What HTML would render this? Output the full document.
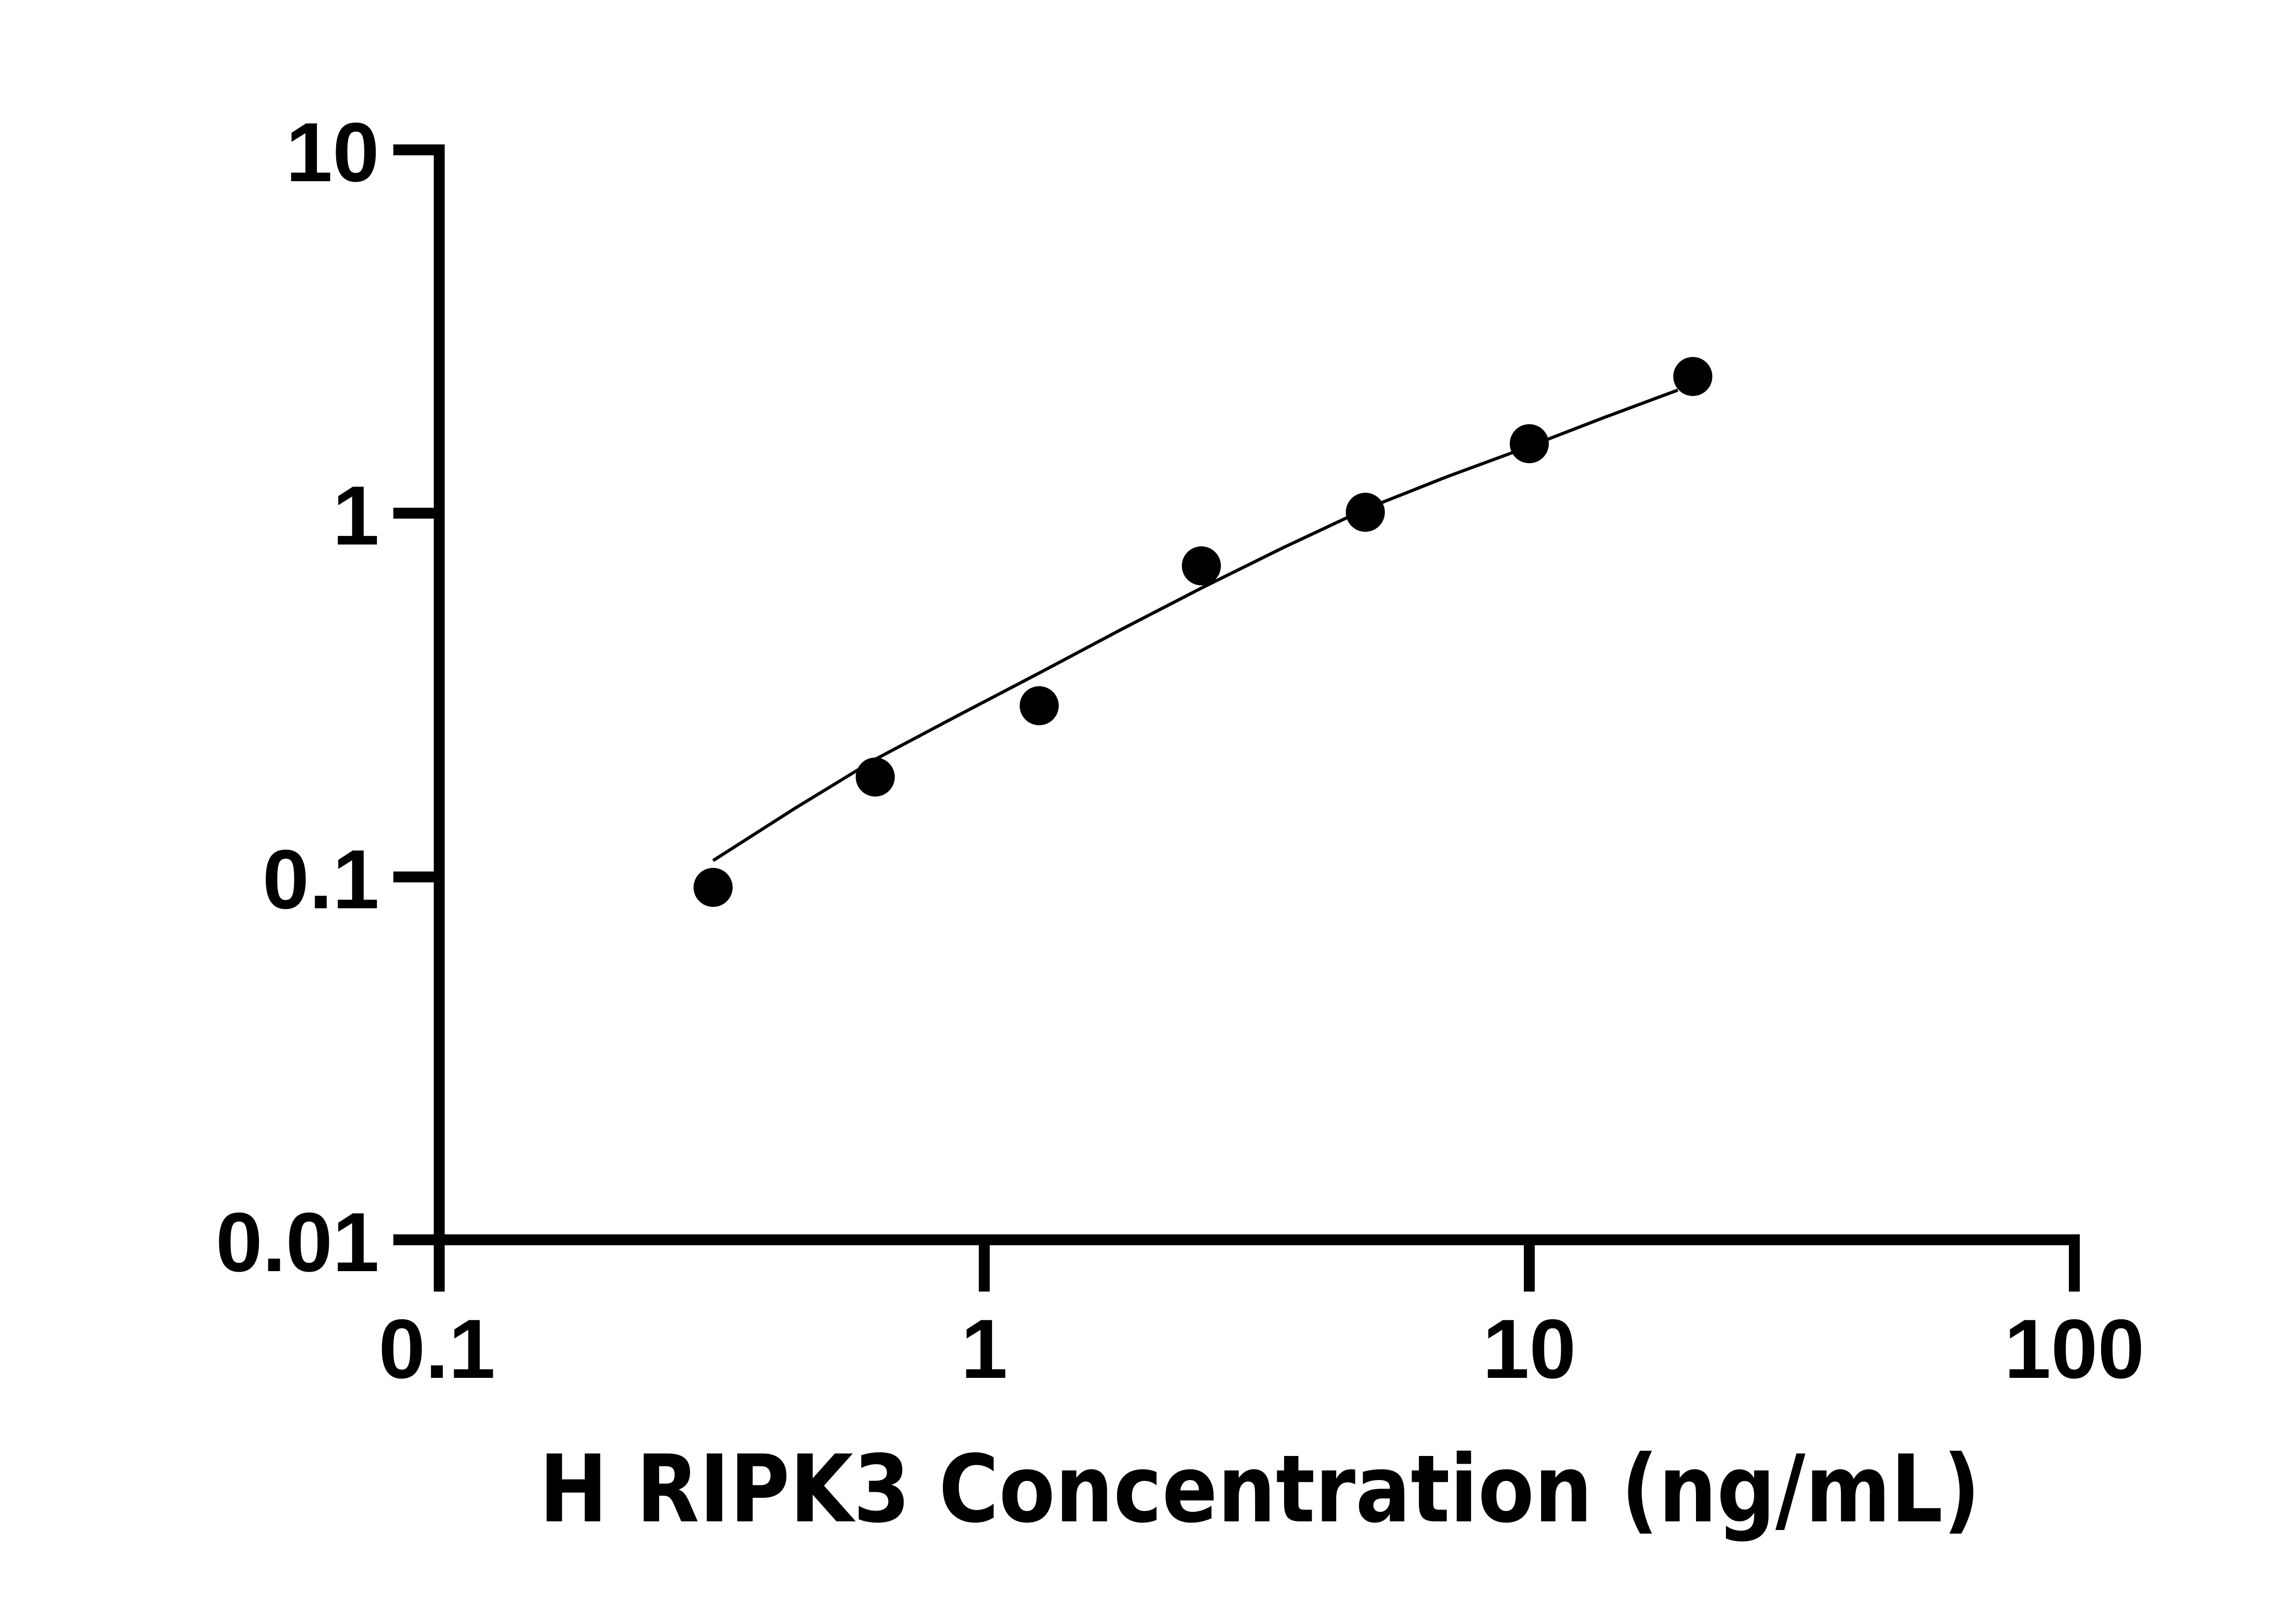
<!DOCTYPE html>
<html><head><meta charset="utf-8"><style>html,body{margin:0;padding:0;background:#fff}svg{display:block}</style></head>
<body>
<svg width="5140" height="3576" viewBox="0 0 5140 3576" xmlns="http://www.w3.org/2000/svg">
<rect width="5140" height="3576" fill="#fff"/>
<g stroke="#000" stroke-width="24" fill="none">
<line x1="967" y1="318" x2="967" y2="2844"/>
<line x1="866" y1="330" x2="979" y2="330"/>
<line x1="866" y1="1130" x2="967" y2="1130"/>
<line x1="866" y1="1931" x2="967" y2="1931"/>
<line x1="866" y1="2730" x2="4579" y2="2730"/>
<line x1="2167" y1="2730" x2="2167" y2="2844"/>
<line x1="3367" y1="2730" x2="3367" y2="2844"/>
<line x1="4567" y1="2730" x2="4567" y2="2844"/>
</g>
<g font-family="Liberation Sans, Arial, sans-serif" font-weight="bold" font-size="185" fill="#000">
<text x="835" y="399" text-anchor="end">10</text>
<text x="835" y="1199" text-anchor="end">1</text>
<text x="835" y="2000" text-anchor="end">0.1</text>
<text x="835" y="2799" text-anchor="end">0.01</text>
<text x="962" y="3034" text-anchor="middle">0.1</text>
<text x="2167" y="3034" text-anchor="middle">1</text>
<text x="3367" y="3034" text-anchor="middle">10</text>
<text x="4567" y="3034" text-anchor="middle">100</text>
</g>
<text x="1187" y="3350" font-family="DejaVu Sans, Liberation Sans, sans-serif" font-weight="bold" font-size="205" textLength="3173" lengthAdjust="spacingAndGlyphs">H RIPK3 Concentration (ng/mL)</text>
<polyline fill="none" stroke="#000" stroke-width="7" points="1570,1895 1750,1780 1927,1672 2110,1575 2288,1482 2465,1388 2645,1295 2825,1206 3006,1121 3185,1050 3367,983 3530,920 3694,859"/>
<g fill="#000">
<circle cx="1570" cy="1954" r="43"/>
<circle cx="1927" cy="1711" r="43"/>
<circle cx="2288" cy="1554" r="43"/>
<circle cx="2645" cy="1246" r="43"/>
<circle cx="3006" cy="1128" r="43"/>
<circle cx="3367" cy="977" r="43"/>
<circle cx="3727" cy="829" r="43"/>
</g>
</svg>
</body></html>
